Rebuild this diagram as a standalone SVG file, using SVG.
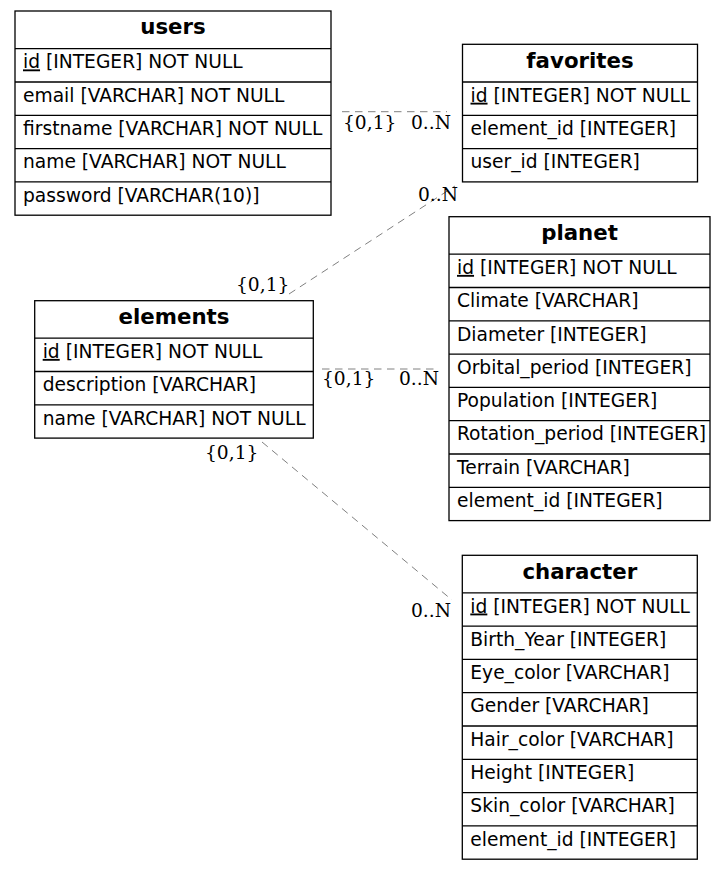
<svg xmlns="http://www.w3.org/2000/svg" width="727" height="870" viewBox="0 0 727 870">
<style>
.box{fill:#fff;stroke:#000;stroke-width:1.3}
.sep{stroke:#000;stroke-width:1.3;fill:none}
.h{font-family:"DejaVu Sans",sans-serif;font-weight:bold;font-size:21.3px;text-anchor:middle;fill:#000}
.r{font-family:"DejaVu Sans",sans-serif;font-size:18.67px;fill:#000}
.u{text-decoration:underline}
.lbl{font-family:"DejaVu Serif",serif;font-size:18.67px;fill:#000}
.edge{stroke:#808080;stroke-width:1;stroke-dasharray:7.5,5.5;fill:none}
</style>
<rect width="727" height="870" fill="#fff"/>
<g id="connectors">
<line class="edge" x1="342" y1="111.7" x2="447" y2="111.7"/>
<line class="edge" x1="289" y1="294" x2="455" y2="186"/>
<line class="edge" x1="322" y1="369" x2="438" y2="369"/>
<line class="edge" x1="262" y1="442" x2="452" y2="600"/>
<text class="lbl" x="343" y="129">{0,1}</text>
<text class="lbl" x="411" y="129">0..N</text>
<text class="lbl" x="418" y="201">0..N</text>
<text class="lbl" x="236" y="291">{0,1}</text>
<text class="lbl" x="322" y="385">{0,1}</text>
<text class="lbl" x="399" y="385">0..N</text>
<text class="lbl" x="205" y="459">{0,1}</text>
<text class="lbl" x="411" y="616.5">0..N</text>
</g>
<g id="users">
<rect class="box" x="15" y="11" width="316" height="204.2"/>
<path class="sep" d="M15 48.7H331M15 82H331M15 115.3H331M15 148.6H331M15 181.9H331"/>
<text class="h" x="173" y="34.3">users</text>
<text class="r" x="23" y="68.4"><tspan class="u">id</tspan> [INTEGER] NOT NULL</text>
<text class="r" x="23" y="101.7">email [VARCHAR] NOT NULL</text>
<text class="r" x="23" y="135">firstname [VARCHAR] NOT NULL</text>
<text class="r" x="23" y="168.3">name [VARCHAR] NOT NULL</text>
<text class="r" x="23" y="201.6">password [VARCHAR(10)]</text>
</g>
<g id="favorites">
<rect class="box" x="462.5" y="44.3" width="235" height="137.6"/>
<path class="sep" d="M462.5 82H697.5M462.5 115.3H697.5M462.5 148.6H697.5"/>
<text class="h" x="580" y="67.6">favorites</text>
<text class="r" x="470.5" y="101.7"><tspan class="u">id</tspan> [INTEGER] NOT NULL</text>
<text class="r" x="470.5" y="135">element_id [INTEGER]</text>
<text class="r" x="470.5" y="168.3">user_id [INTEGER]</text>
</g>
<g id="planet">
<rect class="box" x="449" y="216.7" width="261" height="303.9"/>
<path class="sep" d="M449 254.2H710M449 287.5H710M449 320.8H710M449 354.1H710M449 387.4H710M449 420.7H710M449 454H710M449 487.3H710"/>
<text class="h" x="579.5" y="240">planet</text>
<text class="r" x="457" y="273.9"><tspan class="u">id</tspan> [INTEGER] NOT NULL</text>
<text class="r" x="457" y="307.2">Climate [VARCHAR]</text>
<text class="r" x="457" y="340.5">Diameter [INTEGER]</text>
<text class="r" x="457" y="373.8">Orbital_period [INTEGER]</text>
<text class="r" x="457" y="407.1">Population [INTEGER]</text>
<text class="r" x="457" y="440.4">Rotation_period [INTEGER]</text>
<text class="r" x="457" y="473.7">Terrain [VARCHAR]</text>
<text class="r" x="457" y="507">element_id [INTEGER]</text>
</g>
<g id="elements">
<rect class="box" x="34.7" y="300.7" width="278.6" height="137.4"/>
<path class="sep" d="M34.7 338.2H313.3M34.7 371.5H313.3M34.7 404.8H313.3"/>
<text class="h" x="174" y="324">elements</text>
<text class="r" x="42.7" y="357.9"><tspan class="u">id</tspan> [INTEGER] NOT NULL</text>
<text class="r" x="42.7" y="391.2">description [VARCHAR]</text>
<text class="r" x="42.7" y="424.5">name [VARCHAR] NOT NULL</text>
</g>
<g id="character">
<rect class="box" x="462.3" y="555.3" width="235" height="303.9"/>
<path class="sep" d="M462.3 592.8H697.3M462.3 626.1H697.3M462.3 659.4H697.3M462.3 692.7H697.3M462.3 726H697.3M462.3 759.3H697.3M462.3 792.6H697.3M462.3 825.9H697.3"/>
<text class="h" x="579.8" y="578.6">character</text>
<text class="r" x="470.3" y="612.5"><tspan class="u">id</tspan> [INTEGER] NOT NULL</text>
<text class="r" x="470.3" y="645.8">Birth_Year [INTEGER]</text>
<text class="r" x="470.3" y="679.1">Eye_color [VARCHAR]</text>
<text class="r" x="470.3" y="712.4">Gender [VARCHAR]</text>
<text class="r" x="470.3" y="745.7">Hair_color [VARCHAR]</text>
<text class="r" x="470.3" y="779">Height [INTEGER]</text>
<text class="r" x="470.3" y="812.3">Skin_color [VARCHAR]</text>
<text class="r" x="470.3" y="845.6">element_id [INTEGER]</text>
</g>
</svg>
